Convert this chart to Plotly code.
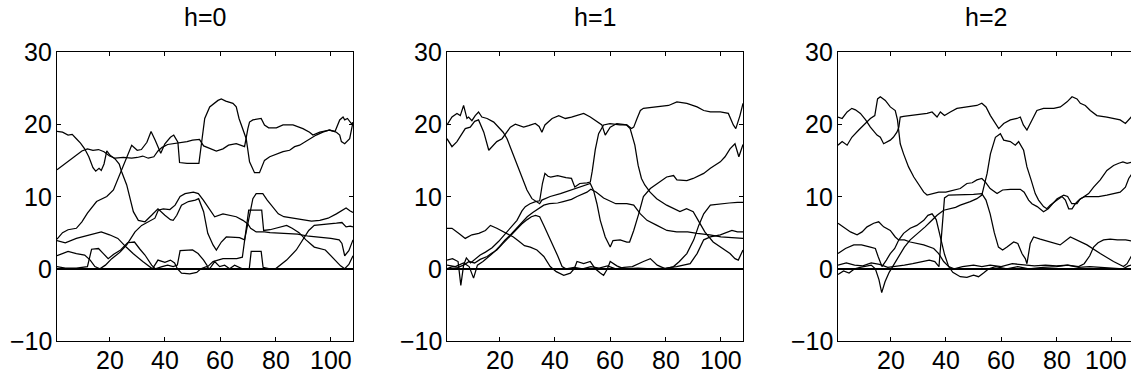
import plotly.graph_objects as go

# ---------------- data ----------------
X_TICKS = [20, 40, 60, 80, 100]
Y_TICKS = [-10, 0, 10, 20, 30]
TITLES = ["h=0", "h=1", "h=2"]

# ---- panel h=0 ----
h0_a_x = [1,3,5,6.5,8,9.5,11,12.5,14,15,16.2,17,18,19,20.2,22,23.5,24.4,26.2,27.4,28.6,30.4,32.8,35.2,37.5,40,42,43,44.3,46,48.5,51,52.2,54,55.5,57.4,58.6,60.4,62.2,67,68.8,70.6,71.8,73,75.4,77,79.5,81,83,87,90,93,96,99,102,104,105.5,107,108]
h0_a_y = [19.0,18.9,18.5,18.6,18.0,17.4,16.6,15.5,14.0,13.5,13.9,13.6,14.5,16.3,15.7,15.2,14.5,13.4,11.6,9.7,7.9,6.7,6.5,7.4,8.3,7.4,6.8,6.7,7.4,8.8,9.3,9.5,9.7,7.9,4.9,3.3,2.6,3.7,4.4,4.3,4.0,7.4,9.7,10.4,10.4,9.5,8.4,7.6,7.2,7.0,6.8,6.6,6.7,7.0,7.6,8.1,8.4,8.0,7.8]

h0_b_x = [1,4,7,10,12,14,16,18,20,22,25,28,30,32,34,36,37.5,39,41,43,45,48,50,52.5,54,57,58.6,61,63,65.8,67.6,68.8,70,70.6,71.8,74.8,76,77.5,80.3,82.7,86.3,89.9,92.3,93.5,96,99.5,101.5,103.2,104.4,105,106,107.4,108]
h0_b_y = [13.7,14.6,15.5,16.3,16.6,16.4,16.5,16.2,15.6,15.3,15.4,15.3,15.4,15.6,15.3,15.5,16.3,16.8,17.2,17.3,17.5,17.6,17.8,17.9,17.0,16.5,16.3,16.6,17.1,17.3,17.0,16.9,19.4,20.3,20.6,20.8,19.9,19.5,19.5,19.9,19.9,19.4,18.9,18.5,18.9,19.2,19.0,20.6,21.0,20.6,20.8,20.1,20.2]

h0_c_x = [1,3,5,8,10,12,15.3,19,21.4,23.8,26.2,28,30,31.5,33.5,35,36.5,38.5,40,42,43.2,44.7,45.3,48,52.3,53.2,54.4,56.2,59.2,60.4,62,64.6,65.8,66.8,68.2,69.4,70.6,72.4,74.2,75.4,76,77.9,80.9,82.7,85.1,86.9,88.7,92.3,94.7,97.1,99.5,102,103.2,103.8,105,106.8,108]
h0_c_y = [4.1,5.0,5.4,5.6,6.5,7.7,9.3,10.0,10.9,13.2,15.5,17.1,16.4,16.5,17.5,19.0,17.8,16.0,17.3,18.2,18.5,17.5,14.7,14.6,14.6,17.0,20.8,22.4,23.3,23.5,23.2,22.9,22.4,20.8,19.4,18.0,14.8,13.3,13.3,14.3,15.0,15.5,15.9,16.2,16.4,16.9,17.1,18.0,18.5,18.9,19.2,18.9,18.5,17.6,17.3,18.0,20.3]

h0_d_x = [1,5,8,11,13,14.7,16.5,18.5,20.8,23.8,26.2,29.2,31.6,34,36.4,37.6,39.4,41.8,43.7,45.5,47.3,50.3,52.1,53.9,56.2,58,61,63.5,65.8,68.2,70,71,73,76,78,83,88,92,96,100,103,104,105,106.5,108]
h0_d_y = [1.8,2.4,2.1,1.9,1.2,0.3,0.0,0.5,1.4,2.3,3.3,5.1,6.0,6.5,7.0,8.1,8.3,8.2,8.8,10.0,10.4,10.6,10.4,9.5,8.3,7.2,7.6,7.4,7.2,6.7,6.2,5.6,5.1,5.1,5.0,4.9,4.8,4.5,4.4,4.2,4.0,3.5,1.8,2.5,4.0]

h0_e_x = [1,4,8,11,15,17,20,23,26,28.5,32,34.5,35.5,37.5,40,42,43.5,44.5,46,49,51.5,53,55,56.2,58,59.8,61.6,63.4,65.2,68,70.5,71.2,74.8,75.5,78,80,84,87.5,90,92,94,98,102,104,105.5,107,108]
h0_e_y = [3.9,3.6,4.2,4.5,4.9,5.1,4.7,4.2,3.0,2.1,1.0,0.3,0.0,1.2,0.9,1.2,0.8,0.0,-0.6,-0.7,-0.5,0.0,0.3,0.0,1.0,0.3,0.5,0.0,0.5,0.0,0.0,2.4,2.4,0.2,0.0,0.0,1.2,2.6,4.2,5.3,6.0,6.1,6.3,6.4,5.8,5.9,5.8]

h0_f_x = [1,4,8,12,13.5,16,17.5,19.5,21.5,24,26.5,29,31,32.8,35.2,36.5,39,41,43,44.5,45.5,50,52,54,55.5,57.4,61,66,68,70.3,75,75.7,78,81,84,86,88.5,91,94,98,101,103.5,105,106.5,108]
h0_f_y = [0.3,0.1,0.1,0.3,2.7,2.8,2.2,1.4,2.0,2.6,3.6,3.7,2.7,1.9,0.5,0.0,0.3,0.5,0.3,0.5,2.5,2.6,2.1,1.2,0.3,1.0,1.4,1.4,1.6,8.1,8.1,5.3,5.4,5.7,6.0,5.6,5.0,4.0,3.0,2.6,1.4,0.4,0.0,0.6,1.8]

# ---- panel h=1 ----
h1_a_x = [1,2.8,4.6,5.8,7,7.6,8.2,8.8,10,11.2,12.4,13.6,15.5,17.9,19.7,21.3,22.7,24.5,26.3,28.1,29.9,31.7,33.5,34.5,35.3,38.3,42,45.6,49.2,52.8,54,55.2,56.4,58.2,60,61,63.6,66,67,68.5,70.3,72,74.5,77,80.4,82.9,84.1,87.7,90,93.8,96.2,99.8,101.5,103.3,105.1,106.5,108]
h1_a_y = [19.9,21.0,21.5,21.2,22.6,21.5,20.8,21.0,20.5,21.2,21.7,21.0,20.8,20.3,19.6,18.9,18.0,16.2,14.3,12.5,10.9,9.7,9.3,9.0,9.5,10.0,10.4,10.9,11.3,11.8,10.8,9.0,6.7,4.4,3.0,3.9,4.0,3.7,3.7,5.3,7.6,10.0,11.1,11.8,12.7,12.9,12.3,12.2,12.5,13.2,13.9,14.8,15.5,16.6,17.3,15.5,17.2]

h1_b_x = [1,2.8,4.6,6.4,7.6,9.4,11,12.4,14.3,16.1,17.5,19,20.9,22,23.9,25.7,28.7,30.5,32.9,34.3,35.3,36.4,39,41.4,43.8,46,48,50.4,52.8,55.2,57,58.2,60,62.4,66,67.7,68.5,69.7,70.9,72,77.5,81.1,84.1,87.7,91.4,93.8,96.2,99.8,102.7,104.5,105.4,106.9,108]
h1_b_y = [18.0,16.9,17.6,18.7,19.4,19.6,20.4,20.6,18.9,16.4,17.0,17.6,18.0,18.6,19.6,20.0,19.6,19.8,20.1,19.7,18.9,19.9,20.8,21.2,20.8,21.0,21.2,21.5,21.0,20.3,19.9,18.5,19.6,20.1,19.9,19.4,19.6,20.8,21.9,22.2,22.4,22.6,23.1,22.9,22.4,21.9,21.7,21.7,21.5,19.9,19.4,21.2,22.9]

h1_c_x = [1,3,5,6,7,8,9.5,11.2,13,14.9,17.3,19.7,22.1,23.9,26.3,28.1,29.3,31,33,34.5,35.5,36.4,37.5,38.5,41,44,46,47.2,49,51.6,52.8,53.5,54.6,55.8,57,57.6,59.9,62,63.5,65.9,67.2,68.9,70.1,71.3,72.5,74.4,76.8,80.4,82.8,85.2,87.6,90,91.8,94.2,97.2,100.9,103.3,105.1,106.3,108]
h1_c_y = [1.2,1.4,1.0,-2.3,0.5,1.5,0.8,1.4,1.9,2.3,2.9,3.8,4.9,5.6,6.7,8.0,8.6,9.0,9.3,9.4,11.8,13.2,12.8,12.7,12.9,12.6,12.5,11.3,11.8,11.9,12.0,13.5,16.5,18.7,19.5,19.9,20.1,20.0,19.9,19.9,19.4,17.1,14.3,12.5,11.6,10.6,9.7,8.8,8.3,7.9,8.3,7.9,6.7,5.1,3.7,2.8,2.1,1.4,1.2,2.6]

h1_d_x = [1,4,7,9,10.6,12,14,16,18,20,22,24,26,28,30,32,34,36,38,41,43,46,48,50,51.6,53,55,57.6,60,62,66,68.5,70.9,73.3,76.9,80.5,84,88,91.4,96,100,104,108]
h1_d_y = [0.5,0.3,0.8,0.3,-1.3,0.5,1.0,1.6,2.3,3.1,4.0,4.7,5.5,6.3,7.2,7.8,8.3,8.8,9.0,9.1,9.3,9.6,10.0,10.3,10.6,11.0,10.6,9.8,9.3,9.0,9.0,8.8,7.6,6.7,6.0,5.3,5.1,5.1,4.9,4.7,4.4,4.3,4.2]

h1_e_x = [1,2.8,5.2,7.6,10,12.5,14.9,16.7,19,22.7,25,27,29,31.1,33.5,36,38.3,40.5,43.2,45.6,47,48,50.4,52.8,54.6,56.4,57.6,59,60,62.4,65,70,75,80,84,88.9,91.4,93.8,96.2,99.8,102,104,106,108]
h1_e_y = [5.6,5.6,4.9,4.2,4.7,4.9,5.3,6.0,5.6,4.9,4.4,3.8,3.2,3.0,2.6,1.7,0.3,-0.4,-0.9,-0.6,0.0,1.0,0.7,1.0,0.0,-0.6,-0.9,0.0,1.0,0.4,0.0,0.1,0.0,0.1,0.3,0.7,2.1,4.0,4.4,4.7,5.0,5.3,5.1,5.1]

h1_f_x = [1,3,5,7,9,11,13,15.5,17,19,21,22.5,24,26,28,30,31.5,33,34.5,36,38,39.5,41,42.6,44,47,50,53,56,59,62,65,68,72,74.5,77,80,82.9,85,87.7,90.2,92,93.8,96.2,99.8,103,106,108]
h1_f_y = [0.0,0.3,0.2,0.5,1.0,0.8,1.3,1.7,2.1,2.6,3.4,4.0,4.7,5.5,6.2,6.8,7.2,7.4,7.2,6.0,4.4,3.0,1.8,0.3,0.0,0.2,0.0,0.3,0.1,0.4,0.0,0.2,0.3,1.0,1.4,0.5,0.0,0.3,1.0,2.1,4.0,6.0,7.6,8.8,9.0,9.1,9.2,9.2]

# ---- panel h=2 ----
h2_a_x = [1,2.5,4.3,6,7.3,9.1,11,12.7,15.1,16.3,17.5,19.9,21,22.3,23,23.5,24.7,27.1,29.6,33.2,35,36.8,38,39.5,41.6,44,47.6,51.2,53,54.5,56.1,57.9,59.1,60.9,63.3,65.7,66.9,68,69.3,70.5,72.9,75.3,79,81.4,83.8,85.6,87.4,88.6,90.4,92.2,94.6,98.2,101.2,103,104.9,106,107,108]
h2_a_y = [21.0,20.8,21.7,22.2,22.0,21.5,20.6,19.6,18.5,18.2,17.3,17.8,18.2,18.9,19.6,21.0,21.1,21.2,21.4,21.5,21.7,21.0,21.7,21.2,21.7,22.2,22.4,22.6,22.9,22.4,21.2,20.1,19.4,20.1,20.6,20.8,21.0,19.9,19.2,20.1,21.9,22.2,22.2,22.4,23.1,23.8,23.5,22.9,22.6,21.9,21.2,21.0,20.8,20.6,20.1,20.6,21.0,20.9]

h2_b_x = [1,2.5,4.3,6,8.5,10.5,12.7,14.3,15.3,16.3,18.1,19.9,21.7,22.5,23.5,24.7,26.5,28.4,30.2,32,33.2,35.6,37.4,40,42.8,45.2,47.6,49.5,51.2,53,54.3,56,58.5,60.5,63.3,66.9,68.3,69.9,71.1,73,75.3,77,80.2,82.6,84,85.5,87.4,88.6,90.4,92.8,95.2,98.2,100.6,103,104.9,106.1,108]
h2_b_y = [17.1,17.6,17.1,18.2,19.2,19.9,20.8,21.2,23.5,23.8,23.3,22.4,21.9,20.6,17.3,15.9,14.1,12.7,11.6,10.6,10.2,10.4,10.6,10.6,10.9,11.1,11.8,11.9,12.3,12.5,12.0,11.1,10.4,10.9,11.0,11.0,10.6,9.5,9.0,8.6,7.9,8.3,9.7,10.2,10.0,9.0,9.0,9.7,10.0,10.0,10.0,10.2,10.4,10.6,11.3,12.5,13.6]

h2_c_x = [1,3,5,7,9,11,13,14.5,15.8,16.8,18,19.5,21,23.5,25,27.1,29,30.7,32.5,34.4,36.8,39.2,41.6,43.5,45.2,47,48.8,51.2,53,54.9,56.1,57.9,59.7,60.9,63.3,65.1,66.3,68.1,69.3,70.8,72.3,73.5,75.3,76.5,77.7,80.2,82,83.2,84.4,85.6,86.8,88,89.8,91.6,93.4,95.8,98.2,100.6,102.5,104,105.5,108]
h2_c_y = [-0.8,-0.3,-0.6,0.0,0.2,0.4,0.5,0.0,-1.5,-3.3,-1.8,-0.5,0.5,2.1,3.0,4.0,4.6,5.1,5.8,6.5,7.4,8.1,8.3,8.5,8.8,9.0,9.3,9.7,10.2,13.2,15.9,18.2,18.7,17.8,17.6,17.1,17.6,16.4,14.1,12.3,10.4,9.5,8.6,8.3,8.8,9.5,10.0,9.5,8.3,8.3,9.0,9.5,10.0,10.4,11.3,12.3,13.6,14.3,14.6,14.8,14.6,14.8]

h2_d_x = [1,3,5.5,7.9,9.7,11.5,13.9,15.7,17.5,19.9,21.7,22.9,25,27.1,29.6,32,35.6,37.4,39.2,41,43,46,50,53,56,60,64,68,72,76,80,84,88,90,92,93.4,95,97,99.4,102,105,108]
h2_d_y = [6.3,5.8,5.1,4.7,5.1,5.8,6.3,6.5,5.8,5.3,4.4,4.0,4.0,3.7,3.5,3.3,2.8,2.1,1.0,0.3,0.0,0.3,0.5,0.3,0.5,0.3,0.7,0.5,0.4,0.5,0.4,0.5,0.3,0.7,1.8,3.0,3.6,4.0,4.1,4.0,4.0,3.8]

h2_e_x = [1,3.7,6.7,9.5,12.7,14.5,15.5,16.9,18.5,19.9,21.5,23,24.7,27.1,29.5,32,33.5,35,36.5,38,39.5,41,42.5,45.2,47.6,50,51.8,53.6,55.5,58,62,66,70,75,80,84,88,92,96,100,104,106,108]
h2_e_y = [2.1,2.8,3.3,3.3,3.0,2.8,1.7,0.3,1.2,2.1,2.8,4.0,4.9,5.6,6.0,6.7,7.4,7.6,6.8,4.5,2.0,0.3,-0.5,-1.1,-1.2,-0.9,-1.1,-0.6,0.0,0.3,0.0,0.3,0.0,0.2,0.3,0.5,0.2,0.3,0.2,0.1,0.0,0.4,0.6]

h2_f_x = [1,4,7,10,13,16,19,22,25,28,31,34,36,37.5,38.5,39.5,41,44,47,50,53,54.5,56,57.5,59,60.5,62.1,64.5,66,67.5,68.7,69.3,70.5,71.7,74.1,77.7,81.3,85,87.4,91,95.8,100.6,104.2,105.5,107,108]
h2_f_y = [0.5,0.8,0.5,0.4,0.8,0.6,0.2,0.3,0.5,0.7,1.0,1.2,1.0,0.3,5.0,9.8,10.2,10.2,10.2,10.3,10.4,9.5,7.6,5.0,3.0,2.6,3.0,3.7,3.5,2.1,1.4,0.7,3.5,4.4,4.1,3.7,3.3,4.4,4.0,3.3,2.1,1.0,0.3,0.7,1.7,2.0]

PANEL_SERIES = [
    [(h0_a_x, h0_a_y), (h0_b_x, h0_b_y), (h0_c_x, h0_c_y), (h0_d_x, h0_d_y), (h0_e_x, h0_e_y), (h0_f_x, h0_f_y)],
    [(h1_a_x, h1_a_y), (h1_b_x, h1_b_y), (h1_c_x, h1_c_y), (h1_d_x, h1_d_y), (h1_e_x, h1_e_y), (h1_f_x, h1_f_y)],
    [(h2_a_x, h2_a_y), (h2_b_x, h2_b_y), (h2_c_x, h2_c_y), (h2_d_x, h2_d_y), (h2_e_x, h2_e_y), (h2_f_x, h2_f_y)],
]

# ---------------- layout ----------------
W, H = 1131, 387
PANEL_PX = [(57, 353), (447, 743), (838, 1131)]   # left/right pixel edges of each axes box
TOP_PX, BOTTOM_PX = 52, 341
UNIT_PX = (353 - 57) / 107.0                     # pixels per x unit (x runs 1..108)
FONT = "Liberation Sans, Arial, Helvetica, sans-serif"
TICK_SIZE = 25
TITLE_SIZE = 25
CHAR_W = 0.556 * TICK_SIZE                       # approx. digit width in px


def fmt(v):
    return str(v).replace("-", "\u2212")


fig = go.Figure()
for i, series in enumerate(PANEL_SERIES):
    sfx = "" if i == 0 else str(i + 1)
    for xs, ys in series:
        assert len(xs) == len(ys), (i, len(xs), len(ys))
        fig.add_trace(go.Scatter(
            x=xs, y=ys, mode="lines",
            line=dict(color="black", width=1.25),
            xaxis="x" + sfx, yaxis="y" + sfx,
            showlegend=False, hoverinfo="skip"))
    l, r = PANEL_PX[i]
    x_end = 1 + (r - l) / UNIT_PX
    fig.update_layout(**{
        "xaxis" + sfx: dict(
            domain=[l / W, r / W], range=[1, x_end], anchor="y" + sfx,
            tickmode="array", tickvals=X_TICKS, ticks="inside", ticklen=4,
            tickwidth=1, tickcolor="black", showline=True, linecolor="black",
            linewidth=1, mirror="allticks", showgrid=False, zeroline=False,
            showticklabels=False),
        "yaxis" + sfx: dict(
            domain=[1 - BOTTOM_PX / H, 1 - TOP_PX / H], range=[-10, 30],
            anchor="x" + sfx, tickmode="array", tickvals=Y_TICKS,
            ticks="inside", ticklen=4, tickwidth=1, tickcolor="black",
            showline=True, linecolor="black", linewidth=1,
            mirror="allticks" if i < 2 else False,
            showgrid=False, zeroline=True, zerolinecolor="black",
            zerolinewidth=2, showticklabels=False),
    })
    # tick labels placed close to the axes as in the reference
    for v in Y_TICKS:
        fig.add_annotation(text=fmt(v), x=0, xref="x" + sfx + " domain",
                           y=v, yref="y" + sfx, xanchor="right",
                           yanchor="middle", xshift=-3, showarrow=False,
                           font=dict(family=FONT, size=TICK_SIZE, color="black"))
    for v in X_TICKS:
        label = fmt(v)
        centre_px = l + (v - 1) * UNIT_PX
        overflow = centre_px + len(label) * CHAR_W / 2 + 3 - (W - 1)
        fig.add_annotation(text=label, x=v, xref="x" + sfx,
                           y=0, yref="y" + sfx + " domain", xanchor="center",
                           yanchor="top", yshift=-3,
                           xshift=-max(0, overflow), showarrow=False,
                           font=dict(family=FONT, size=TICK_SIZE, color="black"))
    cx = (l + 148) / W
    fig.add_annotation(text=TITLES[i], x=cx, y=1 - 17 / H, xref="paper",
                       yref="paper", xanchor="center", yanchor="middle",
                       showarrow=False,
                       font=dict(family=FONT, size=TITLE_SIZE, color="black"))

fig.update_layout(width=W, height=H, margin=dict(l=0, r=0, t=0, b=0),
                  paper_bgcolor="white", plot_bgcolor="white",
                  template="none", showlegend=False)
fig.write_html("out.html")
